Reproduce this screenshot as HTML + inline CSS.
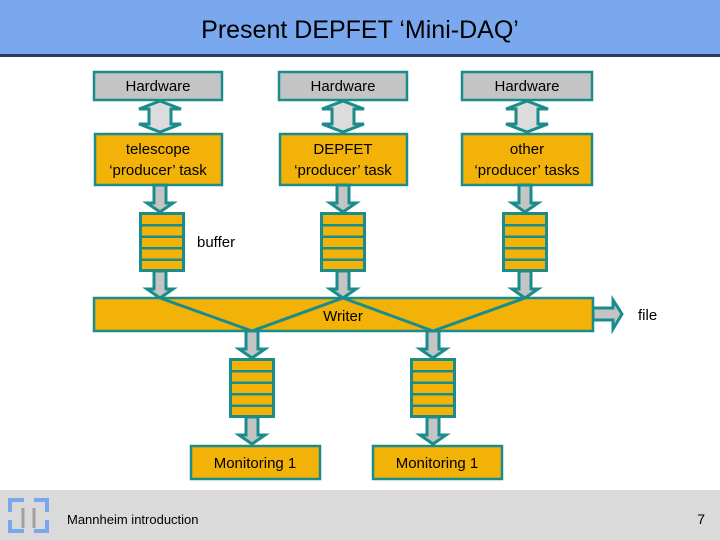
<!DOCTYPE html>
<html><head><meta charset="utf-8"><style>
html,body{margin:0;padding:0;width:720px;height:540px;overflow:hidden;background:#fff}
svg{display:block;font-family:"Liberation Sans",sans-serif}
</style></head><body>
<svg width="720" height="540" viewBox="0 0 720 540">
<defs>
<g id="da"><polygon points="0,101 21,109 11,109 11,124 21,124 0,132 -21,124 -11,124 -11,109 -21,109" fill="#dcdcdc" stroke="#1a8c8c" stroke-width="3" stroke-linejoin="miter"/></g>
<g id="down"><polygon points="-6,0 6,0 6,18 13,18 0,27 -13,18 -6,18" fill="#c4c4c4" stroke="#1a8c8c" stroke-width="3"/></g>
<g id="buf">
<rect x="0" y="0" width="46" height="60" fill="#1a8c8c"/>
<rect x="3" y="3" width="40" height="9" fill="#f2b207"/>
<rect x="3" y="14.5" width="40" height="9" fill="#f2b207"/>
<rect x="3" y="26" width="40" height="9" fill="#f2b207"/>
<rect x="3" y="37.5" width="40" height="9" fill="#f2b207"/>
<rect x="3" y="49" width="40" height="8" fill="#f2b207"/>
</g>
</defs>
<rect x="0" y="0" width="720" height="55" fill="#7aa8ee"/>
<rect x="0" y="54" width="720" height="3" fill="#2a3a5a"/>
<text x="360" y="38" font-size="25" text-anchor="middle" fill="#000">Present DEPFET ‘Mini-DAQ’</text>

<g stroke="#1a8c8c" stroke-width="2.5">
<rect x="94" y="72" width="128" height="28" fill="#c4c4c4"/>
<rect x="279" y="72" width="128" height="28" fill="#c4c4c4"/>
<rect x="462" y="72" width="130" height="28" fill="#c4c4c4"/>
<rect x="95" y="134" width="127" height="51" fill="#f2b207"/>
<rect x="280" y="134" width="127" height="51" fill="#f2b207"/>
<rect x="462" y="134" width="130" height="51" fill="#f2b207"/>
</g>
<use href="#da" x="160" y="0"/><use href="#da" x="343" y="0"/><use href="#da" x="527" y="0"/>
<g font-size="15" text-anchor="middle" fill="#000">
<text x="158" y="91">Hardware</text><text x="343" y="91">Hardware</text><text x="527" y="91">Hardware</text>
<text x="158" y="154">telescope</text><text x="158" y="175">‘producer’ task</text>
<text x="343" y="154">DEPFET</text><text x="343" y="175">‘producer’ task</text>
<text x="527" y="154">other</text><text x="527" y="175">‘producer’ tasks</text>
</g>
<use href="#down" x="160" y="185"/><use href="#down" x="343" y="185"/><use href="#down" x="525" y="185"/>
<use href="#buf" x="139" y="212"/><use href="#buf" x="320" y="212"/><use href="#buf" x="502" y="212"/>
<text x="197" y="247" font-size="15">buffer</text>
<use href="#down" x="160" y="271"/><use href="#down" x="343" y="271"/><use href="#down" x="525" y="271"/>

<polygon points="593,308 613,308 613,300 622,314 613,329 613,320 593,320" fill="#c4c4c4" stroke="#1a8c8c" stroke-width="3"/>
<rect x="94" y="298" width="499" height="33" fill="#f2b207" stroke="#1a8c8c" stroke-width="2.5"/>
<g stroke="#1a8c8c" stroke-width="3">
<line x1="160" y1="298" x2="252" y2="331"/><line x1="343" y1="298" x2="252" y2="331"/>
<line x1="343" y1="298" x2="433" y2="331"/><line x1="525" y1="298" x2="433" y2="331"/>
</g>
<text x="343" y="321" font-size="15" text-anchor="middle">Writer</text>
<text x="638" y="320" font-size="15">file</text>

<use href="#down" x="252" y="331"/><use href="#down" x="433" y="331"/>
<use href="#buf" x="229" y="358"/><use href="#buf" x="410" y="358"/>
<use href="#down" x="252" y="417"/><use href="#down" x="433" y="417"/>
<rect x="191" y="446" width="129" height="33" fill="#f2b207" stroke="#1a8c8c" stroke-width="2.5"/>
<rect x="373" y="446" width="129" height="33" fill="#f2b207" stroke="#1a8c8c" stroke-width="2.5"/>
<text x="255" y="468" font-size="15" text-anchor="middle">Monitoring 1</text>
<text x="437" y="468" font-size="15" text-anchor="middle">Monitoring 1</text>

<rect x="0" y="490" width="720" height="50" fill="#dadada"/>
<g fill="none" stroke="#7aa8ee" stroke-width="4">
<path d="M10,512 V500 H24 M34,500 H47 V512"/>
<path d="M10,520 V531 H24 M34,531 H47 V520"/>
</g>
<g stroke="#a0a0a0" stroke-width="3"><line x1="23" y1="508" x2="23" y2="528"/><line x1="34" y1="508" x2="34" y2="528"/></g>
<text x="67" y="524" font-size="13">Mannheim introduction</text>
<text x="705" y="524" font-size="14" text-anchor="end">7</text>
</svg>
</body></html>
